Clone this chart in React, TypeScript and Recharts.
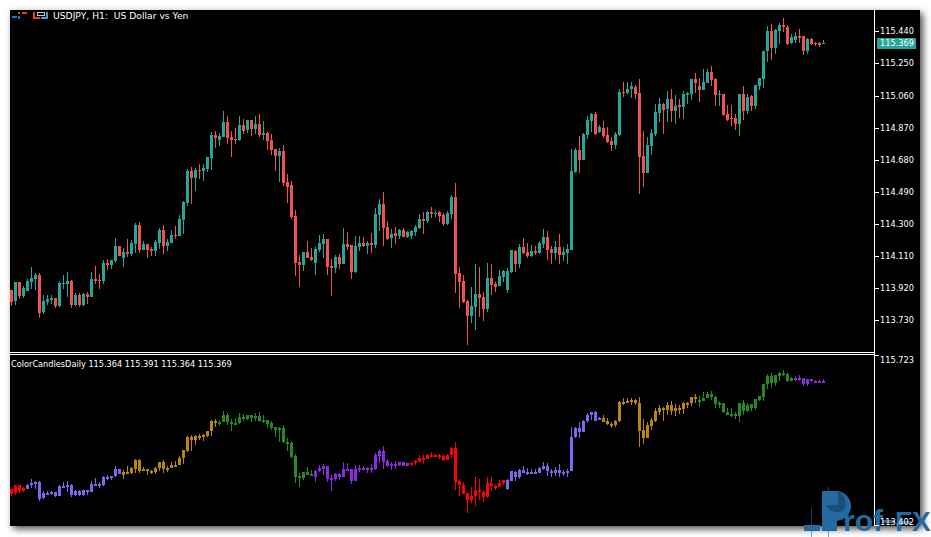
import { Bar, BarChart, ReferenceLine, XAxis, YAxis } from "recharts";

const opens = [
  113.909, 113.844, 113.956, 113.874, 113.903, 113.956, 113.974, 113.998, 113.779, 113.838, 113.85, 113.862,
  113.814, 113.944, 113.944, 113.962, 113.82, 113.879, 113.82, 113.885, 113.868, 113.974, 113.968, 113.962,
  114.069, 114.057, 114.081, 114.169, 114.098, 114.134, 114.122, 114.181, 114.294, 114.146, 114.181, 114.152,
  114.14, 114.187, 114.264, 114.169, 114.187, 114.234, 114.229, 114.323, 114.424, 114.613, 114.572, 114.619,
  114.613, 114.625, 114.69, 114.826, 114.797, 114.814, 114.903, 114.814, 114.803, 114.797, 114.885, 114.856,
  114.915, 114.862, 114.891, 114.826, 114.838, 114.797, 114.743, 114.702, 114.731, 114.548, 114.53, 114.347,
  114.075, 114.057, 114.134, 114.104, 114.069, 114.146, 114.181, 114.211, 114.051, 114.039, 114.104, 114.063,
  114.181, 114.175, 114.016, 114.163, 114.187, 114.169, 114.187, 114.175, 114.353, 114.418, 114.282, 114.217,
  114.246, 114.229, 114.264, 114.223, 114.229, 114.252, 114.276, 114.329, 114.317, 114.371, 114.359, 114.371,
  114.353, 114.3, 114.359, 114.459, 114.01, 113.962, 113.844, 113.755, 113.808, 113.885, 113.868, 113.797,
  113.98, 113.944, 113.933, 113.986, 113.909, 114.016, 114.14, 114.063, 114.163, 114.134, 114.11, 114.14,
  114.128, 114.181, 114.223, 114.152, 114.128, 114.163, 114.116, 114.128, 114.146, 114.607, 114.737, 114.678,
  114.826, 114.909, 114.95, 114.844, 114.868, 114.826, 114.791, 114.767, 114.826, 115.081, 115.075, 115.098,
  115.11, 115.075, 114.702, 114.601, 114.761, 114.832, 114.956, 115.01, 114.98, 115.039, 114.968, 115.004,
  114.992, 115.063, 115.069, 115.158, 115.116, 115.092, 115.134, 115.199, 115.158, 115.063, 115.069, 114.95,
  114.927, 114.927, 114.891, 115.069, 114.968, 115.057, 114.998, 115.116, 115.158, 115.323, 115.442, 115.341,
  115.442, 115.477, 115.465, 115.371, 115.388, 115.412, 115.412, 115.323, 115.394, 115.371, 115.371, 115.364,
];

const highs = [
  113.909, 113.956, 113.956, 113.933, 113.974, 114.045, 114.01, 114.01, 113.879, 113.879, 113.879, 113.862,
  113.962, 113.998, 114.016, 113.968, 113.891, 113.891, 113.891, 113.897, 114.016, 114.051, 114.004, 114.087,
  114.092, 114.087, 114.217, 114.169, 114.158, 114.211, 114.205, 114.305, 114.311, 114.199, 114.181, 114.163,
  114.205, 114.276, 114.294, 114.211, 114.264, 114.288, 114.353, 114.436, 114.625, 114.637, 114.631, 114.655,
  114.655, 114.696, 114.844, 114.85, 114.838, 114.968, 114.939, 114.85, 114.868, 114.939, 114.921, 114.915,
  114.915, 114.939, 114.95, 114.909, 114.844, 114.832, 114.743, 114.749, 114.767, 114.595, 114.554, 114.382,
  114.116, 114.134, 114.199, 114.158, 114.163, 114.234, 114.24, 114.211, 114.092, 114.116, 114.122, 114.276,
  114.252, 114.175, 114.229, 114.229, 114.223, 114.199, 114.246, 114.394, 114.448, 114.489, 114.317, 114.27,
  114.282, 114.27, 114.276, 114.258, 114.264, 114.294, 114.359, 114.371, 114.376, 114.4, 114.376, 114.376,
  114.365, 114.376, 114.471, 114.542, 114.045, 113.998, 113.85, 113.927, 114.063, 114.045, 113.897, 114.069,
  114.063, 113.956, 114.027, 114.027, 114.039, 114.146, 114.146, 114.181, 114.217, 114.187, 114.175, 114.169,
  114.199, 114.27, 114.258, 114.169, 114.199, 114.24, 114.163, 114.181, 114.743, 114.749, 114.82, 114.838,
  114.939, 114.956, 114.962, 114.885, 114.909, 114.873, 114.814, 114.844, 115.098, 115.14, 115.14, 115.14,
  115.122, 115.158, 114.85, 114.814, 114.862, 115.01, 115.045, 115.016, 115.087, 115.098, 115.063, 115.039,
  115.087, 115.081, 115.158, 115.193, 115.163, 115.217, 115.217, 115.234, 115.163, 115.092, 115.069, 115.004,
  115.004, 114.95, 115.069, 115.116, 115.069, 115.063, 115.122, 115.163, 115.323, 115.471, 115.483, 115.453,
  115.489, 115.518, 115.477, 115.424, 115.436, 115.453, 115.412, 115.4, 115.4, 115.377, 115.377, 115.391,
];

const lows = [
  113.814, 113.82, 113.856, 113.862, 113.903, 113.915, 113.909, 113.743, 113.767, 113.82, 113.826, 113.802,
  113.808, 113.915, 113.868, 113.802, 113.814, 113.808, 113.814, 113.826, 113.868, 113.944, 113.915, 113.944,
  114.027, 114.033, 114.069, 114.11, 114.045, 114.104, 114.11, 114.128, 114.128, 114.146, 114.098, 114.11,
  114.11, 114.152, 114.122, 114.14, 114.187, 114.211, 114.229, 114.24, 114.406, 114.418, 114.495, 114.566,
  114.554, 114.607, 114.619, 114.749, 114.761, 114.814, 114.773, 114.696, 114.773, 114.791, 114.832, 114.838,
  114.82, 114.832, 114.814, 114.797, 114.737, 114.708, 114.613, 114.548, 114.524, 114.424, 114.329, 113.992,
  113.927, 114.021, 114.098, 114.081, 113.998, 114.134, 114.098, 113.998, 113.874, 114.01, 114.033, 114.063,
  114.146, 113.974, 114.01, 114.14, 114.163, 114.122, 114.128, 114.158, 114.258, 114.169, 114.205, 114.158,
  114.181, 114.211, 114.223, 114.217, 114.211, 114.229, 114.27, 114.24, 114.305, 114.335, 114.341, 114.311,
  114.288, 114.294, 114.329, 113.891, 113.803, 113.832, 113.584, 113.714, 113.672, 113.749, 113.726, 113.779,
  113.879, 113.897, 113.933, 113.956, 113.891, 114.01, 114.016, 114.039, 114.122, 114.098, 114.104, 114.116,
  114.122, 114.158, 114.087, 114.063, 114.087, 114.063, 114.081, 114.063, 114.146, 114.601, 114.601, 114.678,
  114.803, 114.844, 114.826, 114.838, 114.808, 114.779, 114.731, 114.743, 114.82, 115.051, 115.069, 115.045,
  115.039, 114.477, 114.519, 114.601, 114.708, 114.82, 114.903, 114.832, 114.903, 114.903, 114.891, 114.927,
  114.921, 115.01, 115.033, 115.075, 115.021, 115.092, 115.134, 115.116, 114.998, 114.998, 114.939, 114.909,
  114.879, 114.856, 114.82, 114.915, 114.95, 114.968, 114.98, 115.092, 115.104, 115.258, 115.27, 115.305,
  115.365, 115.436, 115.359, 115.365, 115.371, 115.371, 115.3, 115.305, 115.359, 115.353, 115.347, 115.364,
];

const closes = [
  113.838, 113.956, 113.874, 113.921, 113.962, 113.98, 113.998, 113.773, 113.844, 113.856, 113.862, 113.814,
  113.95, 113.95, 113.962, 113.82, 113.879, 113.82, 113.885, 113.868, 113.974, 113.962, 113.962, 114.069,
  114.057, 114.087, 114.169, 114.11, 114.134, 114.122, 114.187, 114.294, 114.146, 114.181, 114.146, 114.14,
  114.193, 114.264, 114.169, 114.193, 114.234, 114.229, 114.329, 114.43, 114.613, 114.572, 114.619, 114.613,
  114.631, 114.696, 114.826, 114.808, 114.82, 114.903, 114.808, 114.797, 114.797, 114.885, 114.85, 114.915,
  114.862, 114.891, 114.826, 114.838, 114.791, 114.737, 114.702, 114.731, 114.542, 114.519, 114.341, 114.069,
  114.057, 114.134, 114.098, 114.087, 114.152, 114.187, 114.211, 114.045, 114.039, 114.104, 114.063, 114.181,
  114.163, 114.016, 114.169, 114.187, 114.169, 114.187, 114.175, 114.359, 114.418, 114.276, 114.211, 114.24,
  114.229, 114.264, 114.223, 114.252, 114.258, 114.282, 114.329, 114.317, 114.371, 114.359, 114.365, 114.347,
  114.3, 114.365, 114.459, 114.004, 113.956, 113.838, 113.755, 113.814, 113.885, 113.862, 113.797, 113.98,
  113.939, 113.927, 113.992, 114.021, 114.021, 114.146, 114.063, 114.163, 114.128, 114.11, 114.14, 114.128,
  114.187, 114.223, 114.146, 114.128, 114.163, 114.116, 114.134, 114.152, 114.613, 114.737, 114.678, 114.832,
  114.915, 114.95, 114.832, 114.873, 114.82, 114.785, 114.767, 114.832, 115.081, 115.075, 115.098, 115.116,
  115.069, 114.696, 114.601, 114.767, 114.838, 114.962, 115.01, 114.974, 115.039, 114.968, 114.998, 114.992,
  115.069, 115.075, 115.158, 115.134, 115.092, 115.14, 115.199, 115.152, 115.063, 115.069, 114.945, 114.915,
  114.921, 114.891, 115.069, 114.968, 115.051, 114.998, 115.122, 115.163, 115.323, 115.442, 115.341, 115.447,
  115.477, 115.465, 115.365, 115.406, 115.412, 115.4, 115.323, 115.394, 115.365, 115.365, 115.359, 115.369,
];

const mainTicks = [115.44, 115.25, 115.06, 114.87, 114.68, 114.49, 114.3, 114.11, 113.92, 113.73];
const indicatorTicks = [115.723, 113.402];
const lastPrice = 115.369;

// one colour per trading day in the lower panel, the first day is cut off by the window
const dayColors = ["#FF0000", "#7B68EE", "#B8860B", "#228B22", "#8A2BE2", "#FF0000", "#7B68EE", "#B8860B", "#228B22", "#8A2BE2"];
const dayLengths = [4, 24, 24, 24, 24, 24, 24, 24, 24, 8];

const UP = "#26A69A";
const DOWN = "#EF5350";
const FONT = '"DejaVu Sans", sans-serif';

const candleColors = dayColors.flatMap((color, d) => Array(dayLengths[d]).fill(color));

const rows = opens.map((open, i) => ({
  i,
  open,
  close: closes[i],
  high: highs[i],
  low: lows[i],
  range: [lows[i], highs[i]],
  color: closes[i] >= open ? UP : DOWN,
  dayColor: candleColors[i],
}));

function Candle(props: any, colorKey: "color" | "dayColor") {
  const { x, y, width, height, payload } = props;
  const unit = height / (payload.high - payload.low);
  const cx = Math.round(x + width / 2);
  const top = Math.round(y);
  const bottom = Math.round(y + height);
  const bodyTop = Math.round(y + (payload.high - Math.max(payload.open, payload.close)) * unit);
  const bodyBottom = Math.round(y + (payload.high - Math.min(payload.open, payload.close)) * unit);
  const fill = payload[colorKey];
  // the lower panel is squeezed, small bodies stay two pixels tall there
  const minBody = colorKey === "dayColor" ? 2 : 1;
  return (
    <g>
      <rect x={cx - 1} y={top} width={1} height={Math.max(bottom - top, 1)} fill={fill} />
      <rect x={cx - 2} y={bodyTop} width={3} height={Math.max(bodyBottom - bodyTop, minBody)} fill={fill} />
    </g>
  );
}

function PriceTick({ x, y, payload, edge }: any) {
  const value = payload.value;
  const py = Math.round(y);
  const isLast = value === lastPrice;
  let shift = 3;
  if (edge && value === indicatorTicks[0]) shift = 8;
  if (edge && value === indicatorTicks[1]) shift = -1;
  return (
    <g fontFamily={FONT} fontSize={8.2} fill="#fff">
      {isLast ? (
        <rect x={x + 3} y={py - 5} width={39} height={11} fill={UP} />
      ) : (
        <rect x={x + 1} y={edge && value === indicatorTicks[1] ? py - 1 : py} width={4} height={1} fill="#fff" />
      )}
      <text x={x + 6} y={py + shift}>
        {value.toFixed(3)}
      </text>
    </g>
  );
}

function Panel({
  top,
  height,
  domain,
  ticks,
  colorKey,
  edge,
  last,
}: {
  top: number;
  height: number;
  domain: number[];
  ticks: number[];
  colorKey: "color" | "dayColor";
  edge?: boolean;
  last?: boolean;
}) {
  return (
    <div style={{ position: "absolute", left: 10, top }}>
      <BarChart
        width={910}
        height={height}
        data={rows}
        barCategoryGap={0}
        margin={{ top: 0, right: 0, bottom: 0, left: 0 }}
        style={{ overflow: "visible" }}
      >
        <XAxis dataKey="i" type="category" hide padding={{ left: 0, right: 48 }} />
        <YAxis
          orientation="right"
          type="number"
          width={46}
          domain={domain}
          allowDataOverflow
          ticks={ticks}
          interval={0}
          axisLine={false}
          tickLine={false}
          tickSize={0}
          tickMargin={0}
          tick={(p: any) => <PriceTick {...p} edge={edge} />}
        />
        {last && (
          <ReferenceLine
            y={lastPrice}
            stroke={UP}
            shape={(p: any) => (
              <rect x={p.x1} y={Math.round(p.y1)} width={p.x2 - p.x1} height={1} fill={UP} />
            )}
          />
        )}
        <Bar
          dataKey="range"
          isAnimationActive={false}
          shape={(p: any) => Candle(p, colorKey)}
        />
      </BarChart>
    </div>
  );
}

function Logo() {
  const blue = "#2469A0";
  return (
    <svg width={931} height={537} style={{ position: "absolute", left: 0, top: 0 }}>
      <rect x={811} y={508} width={1} height={29} fill={blue} opacity={0.6} />
      <rect x={804} y={525} width={16} height={6} fill={blue} />
      <rect x={828} y={487} width={1} height={50} fill={blue} opacity={0.6} />
      <path d="M822 491 H836 A15 15 0 0 1 836 521 H837 V531 H822 Z" fill={blue} />
      <path d="M826 505 A11 11 0 0 0 845 508 A14 14 0 0 0 838 491 V505 Z" fill="#1B4F7A" />
      <text x={843} y={531} fontFamily="Liberation Sans" fontWeight={700} fontSize={30} fill={blue}>
        rof
      </text>
      <rect x={882} y={520} width={13} height={3} fill={blue} />
      <text x={895} y={531} fontFamily="Liberation Sans" fontWeight={700} fontSize={28} fill={blue}>
        FX
      </text>
    </svg>
  );
}

function HeaderIcons() {
  return (
    <svg width={50} height={12} style={{ position: "absolute", left: 10, top: 10 }}>
      <rect x={2} y={6} width={5} height={2} fill="#1C78C0" />
      <rect x={8} y={2} width={2} height={2} fill="#E53935" />
      <rect x={8} y={6} width={2} height={3} fill="#1C78C0" />
      <rect x={12} y={2} width={5} height={2} fill="#E53935" />
      <rect x={23} y={2} width={2} height={7} fill="#E53935" />
      <rect x={25} y={7} width={5} height={2} fill="#E53935" />
      <rect x={27} y={2} width={8} height={1} fill="#C8C8C8" />
      <rect x={27} y={3} width={1} height={3} fill="#C8C8C8" />
      <rect x={34} y={3} width={1} height={3} fill="#C8C8C8" />
      <rect x={27} y={5} width={7} height={1} fill="#C8C8C8" />
      <rect x={36} y={2} width={2} height={7} fill="#3E9BDC" />
      <rect x={31} y={7} width={5} height={2} fill="#3E9BDC" />
    </svg>
  );
}

const labelStyle = {
  position: "absolute" as const,
  color: "#fff",
  fontFamily: FONT,
  fontSize: 8.2,
  whiteSpace: "pre" as const,
  lineHeight: "12px",
};

export default function App() {
  return (
    <div style={{ position: "absolute", left: 0, top: 0, width: 931, height: 537, background: "#fff", overflow: "hidden" }}>
      <div
        style={{
          position: "absolute",
          left: 10,
          top: 10,
          width: 910,
          height: 516,
          background: "#000",
          boxShadow: "3px 3px 7px rgba(0,0,0,0.7)",
        }}
      />
      <div style={{ position: "absolute", left: 874, top: 10, width: 1, height: 516, background: "#fff" }} />
      <div style={{ position: "absolute", left: 10, top: 352, width: 865, height: 1, background: "#fff" }} />
      <div style={{ position: "absolute", left: 10, top: 354, width: 865, height: 1, background: "#fff" }} />
      <Logo />
      <HeaderIcons />
      <Panel top={10} height={342} domain={[113.542, 115.566]} ticks={[...mainTicks, lastPrice]} colorKey="color" last />
      <Panel top={355} height={171} domain={[113.402, 115.723]} ticks={indicatorTicks} colorKey="dayColor" edge />
      <div style={{ ...labelStyle, left: 53, top: 10, fontSize: 9.2 }}>USDJPY, H1:  US Dollar vs Yen</div>
      <div style={{ ...labelStyle, left: 11, top: 358 }}>ColorCandlesDaily 115.364 115.391 115.364 115.369</div>
    </div>
  );
}
